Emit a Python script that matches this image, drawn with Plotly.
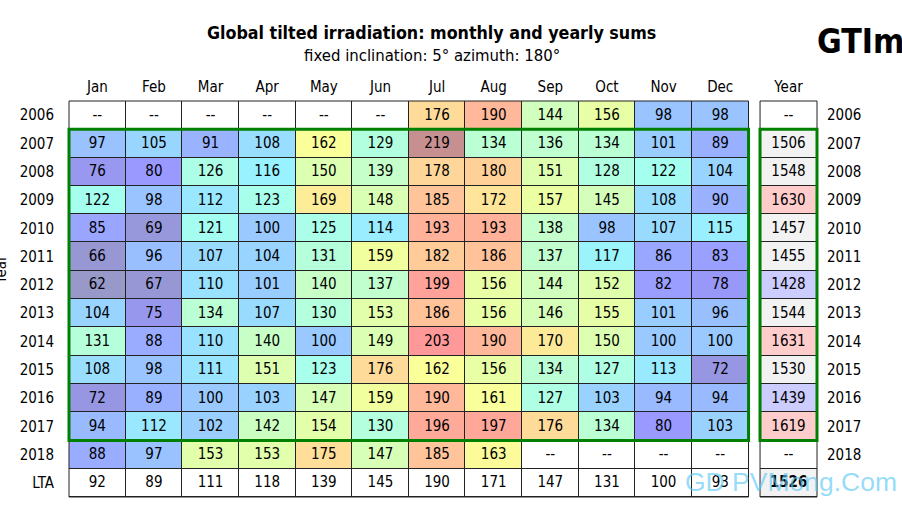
"""
Global tilted irradiation table: monthly and yearly sums, drawn as heatmaps.
"""

import plotly.graph_objects as go

WIDTH, HEIGHT = 902, 510
FONT = "DejaVu Sans Condensed, DejaVu Sans"
GREEN = "#008000"
GRID = "#222222"

# pixel frame of the two tables
LEFT, MONTHS_RIGHT = 68.5, 748.5
YEAR_LEFT, YEAR_RIGHT = 760.0, 817.0
TOP, BOTTOM = 100.5, 497.0

months = ["Jan", "Feb", "Mar", "Apr", "May", "Jun", "Jul", "Aug", "Sep", "Oct", "Nov", "Dec"]
rows = [str(y) for y in range(2006, 2019)] + ["LTA"]
N = None

values = [
    [N, N, N, N, N, N, 176, 190, 144, 156, 98, 98],
    [97, 105, 91, 108, 162, 129, 219, 134, 136, 134, 101, 89],
    [76, 80, 126, 116, 150, 139, 178, 180, 151, 128, 122, 104],
    [122, 98, 112, 123, 169, 148, 185, 172, 157, 145, 108, 90],
    [85, 69, 121, 100, 125, 114, 193, 193, 138, 98, 107, 115],
    [66, 96, 107, 104, 131, 159, 182, 186, 137, 117, 86, 83],
    [62, 67, 110, 101, 140, 137, 199, 156, 144, 152, 82, 78],
    [104, 75, 134, 107, 130, 153, 186, 156, 146, 155, 101, 96],
    [131, 88, 110, 140, 100, 149, 203, 190, 170, 150, 100, 100],
    [108, 98, 111, 151, 123, 176, 162, 156, 134, 127, 113, 72],
    [72, 89, 100, 103, 147, 159, 190, 161, 127, 103, 94, 94],
    [94, 112, 102, 142, 154, 130, 196, 197, 176, 134, 80, 103],
    [88, 97, 153, 153, 175, 147, 185, 163, N, N, N, N],
]
lta = [92, 89, 111, 118, 139, 145, 190, 171, 147, 131, 100, 93]
yearly = [N, 1506, 1548, 1630, 1457, 1455, 1428, 1544, 1631, 1530, 1439, 1619, N, 1526]

stops = [
    (60, "#9898c4"), (72, "#9696e2"), (80, "#9999ff"), (98, "#99c4ff"), (108, "#99ddff"),
    (116, "#99f2ff"), (122, "#a5ffee"), (134, "#bbffd5"), (145, "#d3ffbb"), (156, "#e8ffa5"),
    (162, "#fbff99"), (176, "#ffdb99"), (185, "#ffc499"), (197, "#ffa799"), (203, "#ff9999"),
    (220, "#c48f8f"),
]
ZMIN, ZMAX = stops[0][0], stops[-1][0]
month_scale = [[(v - ZMIN) / (ZMAX - ZMIN), c] for v, c in stops]
year_scale = [
    [0, "#ccccff"], [0.2, "#ccccff"], [0.2, "#f2f2f2"],
    [0.8, "#f2f2f2"], [0.8, "#ffcccc"], [1, "#ffcccc"],
]

plot_w = YEAR_RIGHT - LEFT
x_idx = list(range(12))
y_idx = list(range(len(rows)))


def paper_x(px):
    return (px - LEFT) / plot_w


def paper_y(py):
    return (BOTTOM - py) / (BOTTOM - TOP)


fig = go.Figure()

# white base so that empty cells and the LTA row keep their grid lines
fig.add_trace(go.Heatmap(
    x=x_idx, y=y_idx, z=[[1] * 12 for _ in rows], colorscale=[[0, "white"], [1, "white"]],
    showscale=False, xgap=1, ygap=1, hoverinfo="skip",
))
fig.add_trace(go.Heatmap(
    x=x_idx, y=y_idx[:-1], z=values, colorscale=month_scale, zmin=ZMIN, zmax=ZMAX,
    showscale=False, xgap=1, ygap=1,
))
fig.add_trace(go.Heatmap(
    x=[0], y=y_idx, z=[[1] for _ in rows], colorscale=[[0, "white"], [1, "white"]],
    showscale=False, ygap=1, xaxis="x2", yaxis="y2", hoverinfo="skip",
))
fig.add_trace(go.Heatmap(
    x=[0], y=y_idx, z=[[v] for v in yearly], colorscale=year_scale, zmin=1400, zmax=1650,
    showscale=False, ygap=1, xaxis="x2", yaxis="y2",
))

# cell texts, nudged a little so the digits sit on the row centre
TEXT_DY = 0.03
all_rows = values + [lta]
cell_x, cell_y, cell_t = [], [], []
for r, row in enumerate(all_rows):
    for c, v in enumerate(row):
        cell_x.append(c)
        cell_y.append(r + TEXT_DY)
        cell_t.append("--" if v is None else str(v))
fig.add_trace(go.Scatter(
    x=cell_x, y=cell_y, text=cell_t, mode="text", textposition="middle center",
    textfont=dict(family=FONT, size=15, color="black"), showlegend=False, hoverinfo="skip",
))
year_t = ["--" if v is None else str(v) for v in yearly]
year_t[-1] = "<b>%s</b>" % year_t[-1]
fig.add_trace(go.Scatter(
    x=[0] * len(rows), y=[i + TEXT_DY for i in y_idx], text=year_t, mode="text",
    textposition="middle center", textfont=dict(family=FONT, size=15, color="black"),
    showlegend=False, hoverinfo="skip", xaxis="x2", yaxis="y2",
))

# table frames, green box marks the complete years; paper refs so the lines are not clipped
shapes = []
for x0, x1, yref in [(LEFT, MONTHS_RIGHT, "y"), (YEAR_LEFT, YEAR_RIGHT, "y2")]:
    shapes.append(dict(type="rect", xref="paper", yref="paper", x0=paper_x(x0), x1=paper_x(x1),
                       y0=0, y1=1, line=dict(color=GRID, width=1)))
    shapes.append(dict(type="rect", xref="paper", yref=yref, x0=paper_x(x0), x1=paper_x(x1),
                       y0=0.5, y1=11.5, line=dict(color=GREEN, width=3)))


def label(text, px, py, size, family=FONT, color="black", anchor="center", angle=0):
    return dict(text=text, x=paper_x(px), y=paper_y(py), xref="paper", yref="paper",
                xanchor=anchor, yanchor="middle", showarrow=False, textangle=angle,
                font=dict(family=family, size=size, color=color))


annotations = [
    label("<b>Global tilted irradiation: monthly and yearly sums</b>", 431.5, 32, 17.7),
    label("fixed inclination: 5° azimuth: 180°", 431.5, 55, 16.6),
    label("<b>GTIm</b>", 815, 41, 33.5, anchor="left"),
    label("Year", 1, 270, 15, angle=-90),
    label("GD PVMong.Com", 683, 482, 26.5, family="Liberation Sans",
          color="rgba(90,200,245,0.65)", anchor="left"),
]

tick_font = dict(family=FONT, size=15, color="black")
fig.update_layout(
    width=WIDTH, height=HEIGHT,
    margin=dict(l=LEFT, r=WIDTH - YEAR_RIGHT, t=TOP, b=HEIGHT - BOTTOM, pad=0),
    paper_bgcolor="white", plot_bgcolor=GRID,
    shapes=shapes, annotations=annotations,
    xaxis=dict(domain=[0, (MONTHS_RIGHT - LEFT) / plot_w], range=[-0.5, 11.5], side="top",
               tickvals=x_idx, ticktext=months, tickfont=tick_font, ticks="outside", ticklen=2,
               tickcolor="white", showgrid=False, zeroline=False, showline=False),
    yaxis=dict(range=[13.5, -0.5], tickvals=y_idx, ticktext=rows, tickfont=tick_font,
               ticks="outside", ticklen=11, tickcolor="white", showgrid=False, zeroline=False,
               showline=False),
    xaxis2=dict(domain=[(YEAR_LEFT - LEFT) / plot_w, 1], range=[-0.5, 0.5], side="top",
                tickvals=[0], ticktext=["Year"], tickfont=tick_font, ticks="outside", ticklen=2,
                tickcolor="white", showgrid=False, zeroline=False, anchor="y2"),
    yaxis2=dict(range=[13.5, -0.5], side="right", anchor="x2", tickvals=y_idx[:-1], ticktext=rows[:-1],
                tickfont=tick_font, ticks="outside", ticklen=6, tickcolor="white",
                showgrid=False, zeroline=False),
)

fig.write_html("out.html", config={"displayModeBar": False},
               post_script="document.body.style.margin='0';")
